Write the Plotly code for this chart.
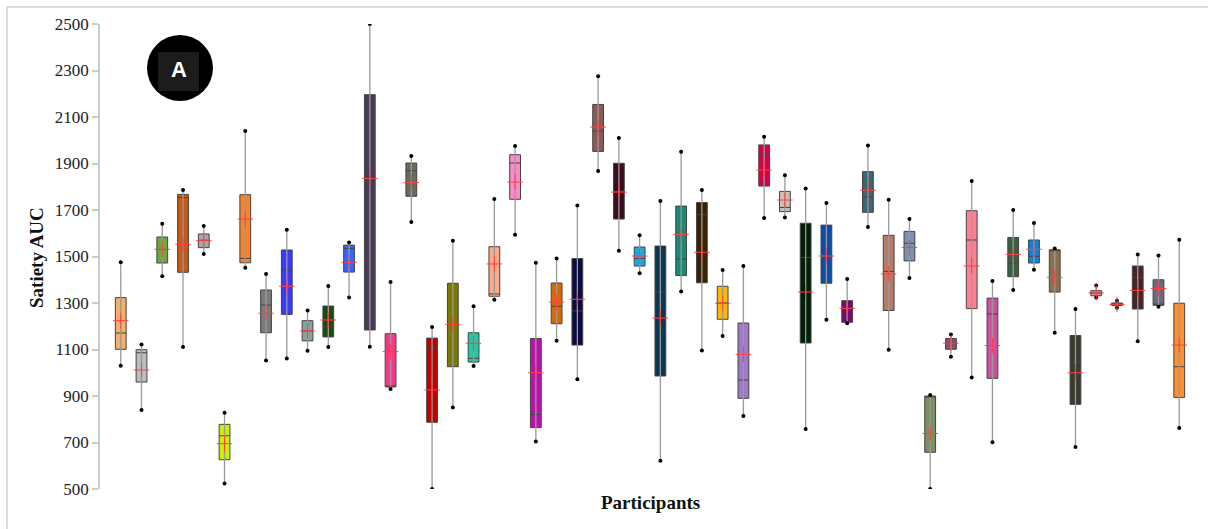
import plotly.graph_objects as go

# ---- data ----
participants = list(range(1, 53))
q_min = [1030, 840, 1415, 1111, 1511, 524, 1452, 1053, 1061, 1095, 1111, 1324, 1112, 930, 1648, 500, 851,
         1029, 1314, 1594, 704, 1138, 972, 1868, 1525, 1428, 622, 1350, 1096, 1158, 814, 1666, 1668, 758,
         1228, 1213, 1627, 1099, 1407, 500, 1069, 980, 701, 1356, 1443, 1172, 681, 1324, 1280, 1135, 1284, 762]
q1 = [1101, 960, 1472, 1432, 1538, 626, 1473, 1172, 1251, 1137, 1154, 1433, 1184, 939, 1759, 787, 1026,
      1046, 1329, 1746, 764, 1211, 1119, 1952, 1661, 1459, 986, 1418, 1387, 1230, 890, 1803, 1693, 1128,
      1385, 1217, 1690, 1268, 1481, 658, 1101, 1276, 976, 1413, 1472, 1347, 864, 1331, 1289, 1274, 1290, 894]
median = [1171, 1086, 1530, 1754, 1570, 729, 1492, 1291, 1442, 1180, 1198, 1535, 1251, 940, 1869, 1105, 1208,
          1062, 1339, 1902, 820, 1286, 1266, 2040, 1780, 1492, 1347, 1489, 1680, 1300, 969, 1941, 1711, 1496,
          1539, 1277, 1756, 1436, 1557, 898, 1127, 1571, 1253, 1471, 1501, 1525, 1046, 1343, 1294, 1410, 1295, 1026]
q3 = [1323, 1099, 1584, 1767, 1597, 778, 1766, 1356, 1528, 1224, 1287, 1549, 2196, 1168, 1902, 1149, 1385,
      1172, 1542, 1938, 1147, 1386, 1491, 2154, 1901, 1541, 1545, 1717, 1732, 1372, 1214, 1980, 1780, 1643,
      1635, 1310, 1865, 1591, 1608, 900, 1147, 1697, 1321, 1582, 1571, 1529, 1160, 1353, 1300, 1459, 1400, 1299]
q_max = [1475, 1121, 1641, 1786, 1631, 828, 2040, 1425, 1615, 1268, 1373, 1560, 2500, 1390, 1932, 1197, 1568,
         1286, 1747, 1975, 1473, 1491, 1719, 2275, 2010, 1591, 1739, 1951, 1786, 1442, 1459, 2015, 1849, 1792,
         1730, 1403, 1977, 1744, 1661, 904, 1164, 1825, 1395, 1700, 1644, 1534, 1274, 1375, 1310, 1509, 1504, 1572]
mean = [1224, 1012, 1531, 1552, 1568, 695, 1661, 1256, 1372, 1180, 1227, 1475, 1835, 1091, 1818, 926, 1208,
        1127, 1468, 1820, 1000, 1304, 1316, 2057, 1777, 1502, 1235, 1595, 1518, 1299, 1079, 1872, 1743, 1347,
        1502, 1277, 1785, 1425, 1539, 739, 1127, 1459, 1117, 1509, 1531, 1410, 1000, 1343, 1294, 1354, 1362, 1119]
colors = ["#F6AE68", "#BDBDBD", "#6AAA3C", "#C85A17", "#A9A9A9", "#CCF000", "#F5832F", "#7B7B7B",
          "#3A3AFF", "#8FA09A", "#1E4A0E", "#3465FF", "#4A3A58", "#FF3589", "#686A5E", "#C00000", "#7A7A00",
          "#22C9A2", "#FFA98A", "#FF88C8", "#BE10AE", "#D96A00", "#0B0B40", "#8B5A55", "#3A0A1E", "#1EA7E0",
          "#0B3650", "#1A8A72", "#3A2200", "#FFB800", "#A07ACA", "#D4004A", "#C9BFB5", "#00200A", "#0A4DAA",
          "#7A0A70", "#3D6670", "#B87A66", "#8090B0", "#7A9062", "#8A5070", "#FF8090", "#D050A0", "#3A6040",
          "#0A84E0", "#8A7050", "#3A3A2E", "#D8909A", "#A04040", "#4A2424", "#6A6A80", "#FF9030"]
y_ticks = [500, 700, 900, 1100, 1300, 1500, 1700, 1900, 2100, 2300, 2500]

xs = [p - 1 for p in participants]

fig = go.Figure()

# whiskers (light grey) drawn from min to max behind the boxes
wx, wy = [], []
for i, x in enumerate(xs):
    wx += [x, x, None]
    wy += [q_min[i], q_max[i], None]
fig.add_trace(go.Scatter(x=wx, y=wy, mode="lines", line=dict(color="#9A9A9A", width=1.3),
                         showlegend=False, hoverinfo="skip"))

for i, x in enumerate(xs):
    fig.add_trace(go.Box(
        x=[x], q1=[q1[i]], median=[median[i]], q3=[q3[i]],
        lowerfence=[q1[i]], upperfence=[q3[i]],
        width=0.52, whiskerwidth=0, fillcolor=colors[i],
        line=dict(color="#444444", width=1), boxpoints=False,
        showlegend=False, hoverinfo="skip"))

# whisker end dots
fig.add_trace(go.Scatter(x=xs + xs, y=q_min + q_max, mode="markers",
                         marker=dict(color="black", size=4), showlegend=False,
                         hoverinfo="skip"))
# mean crosses
fig.add_trace(go.Scatter(x=xs, y=mean, mode="markers",
                         marker=dict(symbol="cross-thin", size=11,
                                     line=dict(color="#FF4040", width=1)),
                         showlegend=False, hoverinfo="skip"))

W, H = 1208, 529
L, R, T, B = 100, 8, 24, 40
pw, ph = W - L - R, H - T - B

def px(xp):
    return (xp - L) / pw

def py(yp):
    return (H - B - yp) / ph

shapes = [
    dict(type="line", xref="paper", yref="paper", x0=px(7), x1=px(1208), y0=py(7), y1=py(7),
         line=dict(color="#D0D0D0", width=1.5)),
    dict(type="line", xref="paper", yref="paper", x0=px(7), x1=px(7), y0=py(7), y1=py(529),
         line=dict(color="#D0D0D0", width=1.5)),
    dict(type="circle", xref="paper", yref="paper", x0=px(147), x1=px(213), y0=py(35), y1=py(101),
         fillcolor="black", line=dict(color="black", width=0)),
    dict(type="rect", xref="paper", yref="paper", x0=px(158), x1=px(199), y0=py(52), y1=py(91),
         fillcolor="#1C1C1C", line=dict(width=0)),
]

fig.update_layout(
    width=W, height=H,
    margin=dict(l=L, r=R, t=T, b=B),
    paper_bgcolor="white", plot_bgcolor="white",
    shapes=shapes,
    annotations=[
        dict(text="<b>A</b>", xref="paper", yref="paper", x=px(179), y=py(70), showarrow=False,
             xanchor="center", yanchor="middle",
             font=dict(family="Liberation Sans, Arial", size=22, color="white")),
        dict(text="<b>Satiety AUC</b>", xref="paper", yref="paper", x=px(36), y=py(258),
             xanchor="center", yanchor="middle", textangle=-90, showarrow=False,
             font=dict(family="Liberation Serif, Times New Roman", size=19, color="#111")),
        dict(text="<b>Participants</b>", xref="paper", yref="paper", x=px(650), y=py(503),
             xanchor="center", yanchor="middle", showarrow=False,
             font=dict(family="Liberation Serif, Times New Roman", size=19, color="#111")),
    ],
    xaxis=dict(range=[-1, 52.0], showticklabels=False, showgrid=False, zeroline=False,
               showline=False, ticks=""),
    yaxis=dict(range=[500, 2500], tickvals=y_ticks, showgrid=False, zeroline=False,
               showline=True, linecolor="#CCCCCC", linewidth=1.5, ticks="outside",
               ticklen=6, tickcolor="#CCCCCC", tickwidth=1.5,
               tickfont=dict(family="Liberation Serif, Times New Roman", size=17, color="#222")),
)

fig.write_html("out.html", config={"displayModeBar": False},
               post_script="document.body.style.margin='0px';document.body.style.padding='0px';")
